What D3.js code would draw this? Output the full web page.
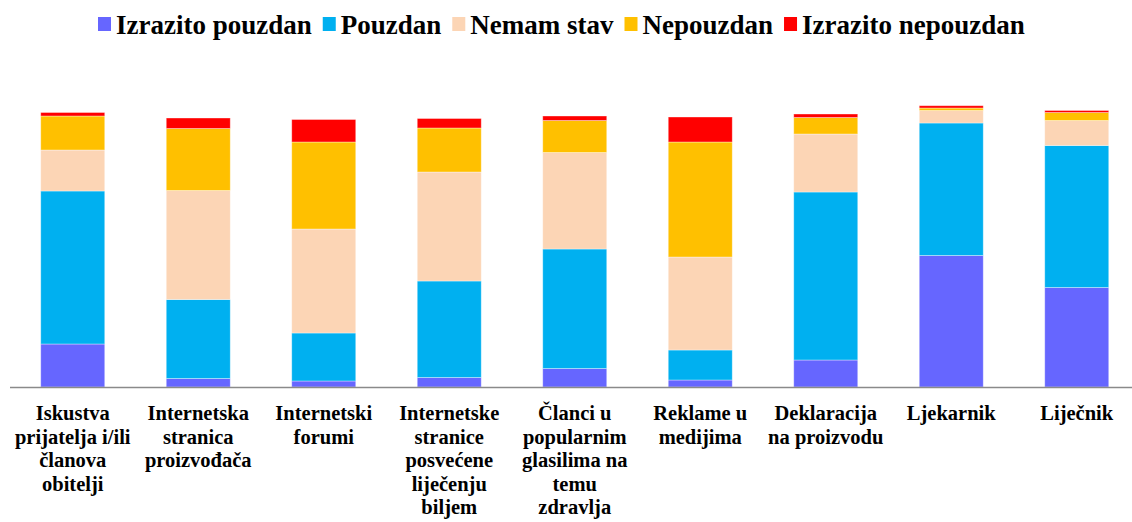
<!DOCTYPE html>
<html>
<head>
<meta charset="utf-8">
<script src="https://cdn.jsdelivr.net/npm/d3@7"></script>
<style>
    body { margin: 0; background: #fff; }
    svg { display: block; }
</style>
</head>
<body>
<svg id="chart"></svg>
<script>
// kategorije (redovi oznaka na x osi)
const categories = [
    ["Iskustva", "prijatelja i/ili", "članova", "obitelji"],
    ["Internetska", "stranica", "proizvođača"],
    ["Internetski", "forumi"],
    ["Internetske", "stranice", "posvećene", "liječenju", "biljem"],
    ["Članci u", "popularnim", "glasilima na", "temu", "zdravlja"],
    ["Reklame u", "medijima"],
    ["Deklaracija", "na proizvodu"],
    ["Ljekarnik"],
    ["Liječnik"],
];

const seriesNames = ["Izrazito pouzdan", "Pouzdan", "Nemam stav", "Nepouzdan", "Izrazito nepouzdan"];
const seriesColors = ["#6666FF", "#00B0F0", "#FCD5B5", "#FFC000", "#FF0000"];

// broj ispitanika po odgovoru (procijenjeno sa slike)
const izrazitoPouzdan   = [43, 8.5, 6, 9.5, 18.5, 7, 27, 131.5, 99.5];
const pouzdan           = [153, 79, 48, 96.5, 119.5, 30, 168, 132.5, 142];
const nemamStav         = [41, 109, 104, 109, 96.5, 93, 58, 12.5, 25];
const nepouzdan         = [34, 62, 87, 44, 32, 115, 16.5, 2.5, 8];
const izrazitoNepouzdan = [3.5, 10.5, 22.5, 9.5, 4.5, 25, 3.5, 2.3, 2];

const width = 1132;
const height = 522;
const fontFamily = '"Liberation Serif"';

const svg = d3
    .select("#chart")
    .attr("width", width)
    .attr("height", height)
    .attr("viewBox", [0, 0, width, height]);

const rows = categories.map((c, i) => ({
    key: i,
    [seriesNames[0]]: izrazitoPouzdan[i],
    [seriesNames[1]]: pouzdan[i],
    [seriesNames[2]]: nemamStav[i],
    [seriesNames[3]]: nepouzdan[i],
    [seriesNames[4]]: izrazitoNepouzdan[i],
}));

const stacked = d3.stack().keys(seriesNames)(rows);

const x = d3
    .scaleBand()
    .domain(d3.range(categories.length))
    .range([10, 1139.5])
    .paddingInner(0.49)
    .paddingOuter(0.245);

const y = d3.scaleLinear().domain([0, 300]).range([387, 87]);

const color = d3.scaleOrdinal().domain(seriesNames).range(seriesColors);

// stupci
svg.append("g")
    .selectAll("g")
    .data(stacked)
    .join("g")
    .attr("fill", (d) => color(d.key))
    .selectAll("rect")
    .data((d) => d)
    .join("rect")
    .attr("x", (d) => x(d.data.key))
    .attr("y", (d) => y(d[1]))
    .attr("width", x.bandwidth())
    .attr("height", (d) => y(d[0]) - y(d[1]))
    .attr("stroke", "#fff")
    .attr("stroke-opacity", 0.45)
    .attr("stroke-width", 0.8);

// x os
svg.append("line")
    .attr("x1", 10)
    .attr("x2", width)
    .attr("y1", y(0) + 0.5)
    .attr("y2", y(0) + 0.5)
    .attr("stroke", "#8a8a8a")
    .attr("stroke-width", 1.6);

// oznake kategorija
const labels = svg.append("g")
    .selectAll("text")
    .data(categories)
    .join("text")
    .style("font-family", fontFamily)
    .style("font-weight", "bold")
    .style("font-size", "20.5px")
    .attr("fill", "#000")
    .attr("text-anchor", "middle")
    .attr("x", (d, i) => x(i) + x.bandwidth() / 2)
    .attr("y", 420);

labels.selectAll("tspan")
    .data((d) => d)
    .join("tspan")
    .attr("x", function () {
        return d3.select(this.parentNode).attr("x");
    })
    .attr("dy", (d, i) => (i == 0 ? 0 : 23.5))
    .text((d) => d);

// legenda
const legend = svg.append("g");

let lx = 98;
seriesNames.forEach((name, i) => {
    legend.append("rect")
        .attr("x", lx)
        .attr("y", 17)
        .attr("width", 13)
        .attr("height", 14)
        .attr("fill", seriesColors[i]);
    const t = legend.append("text")
        .style("font-family", fontFamily)
        .style("font-weight", "bold")
        .style("font-size", "27px")
        .attr("fill", "#000")
        .attr("x", lx + 18)
        .attr("y", 34)
        .text(name);
    lx += 18 + t.node().getComputedTextLength() + 11;
});
</script>
</body>
</html>
